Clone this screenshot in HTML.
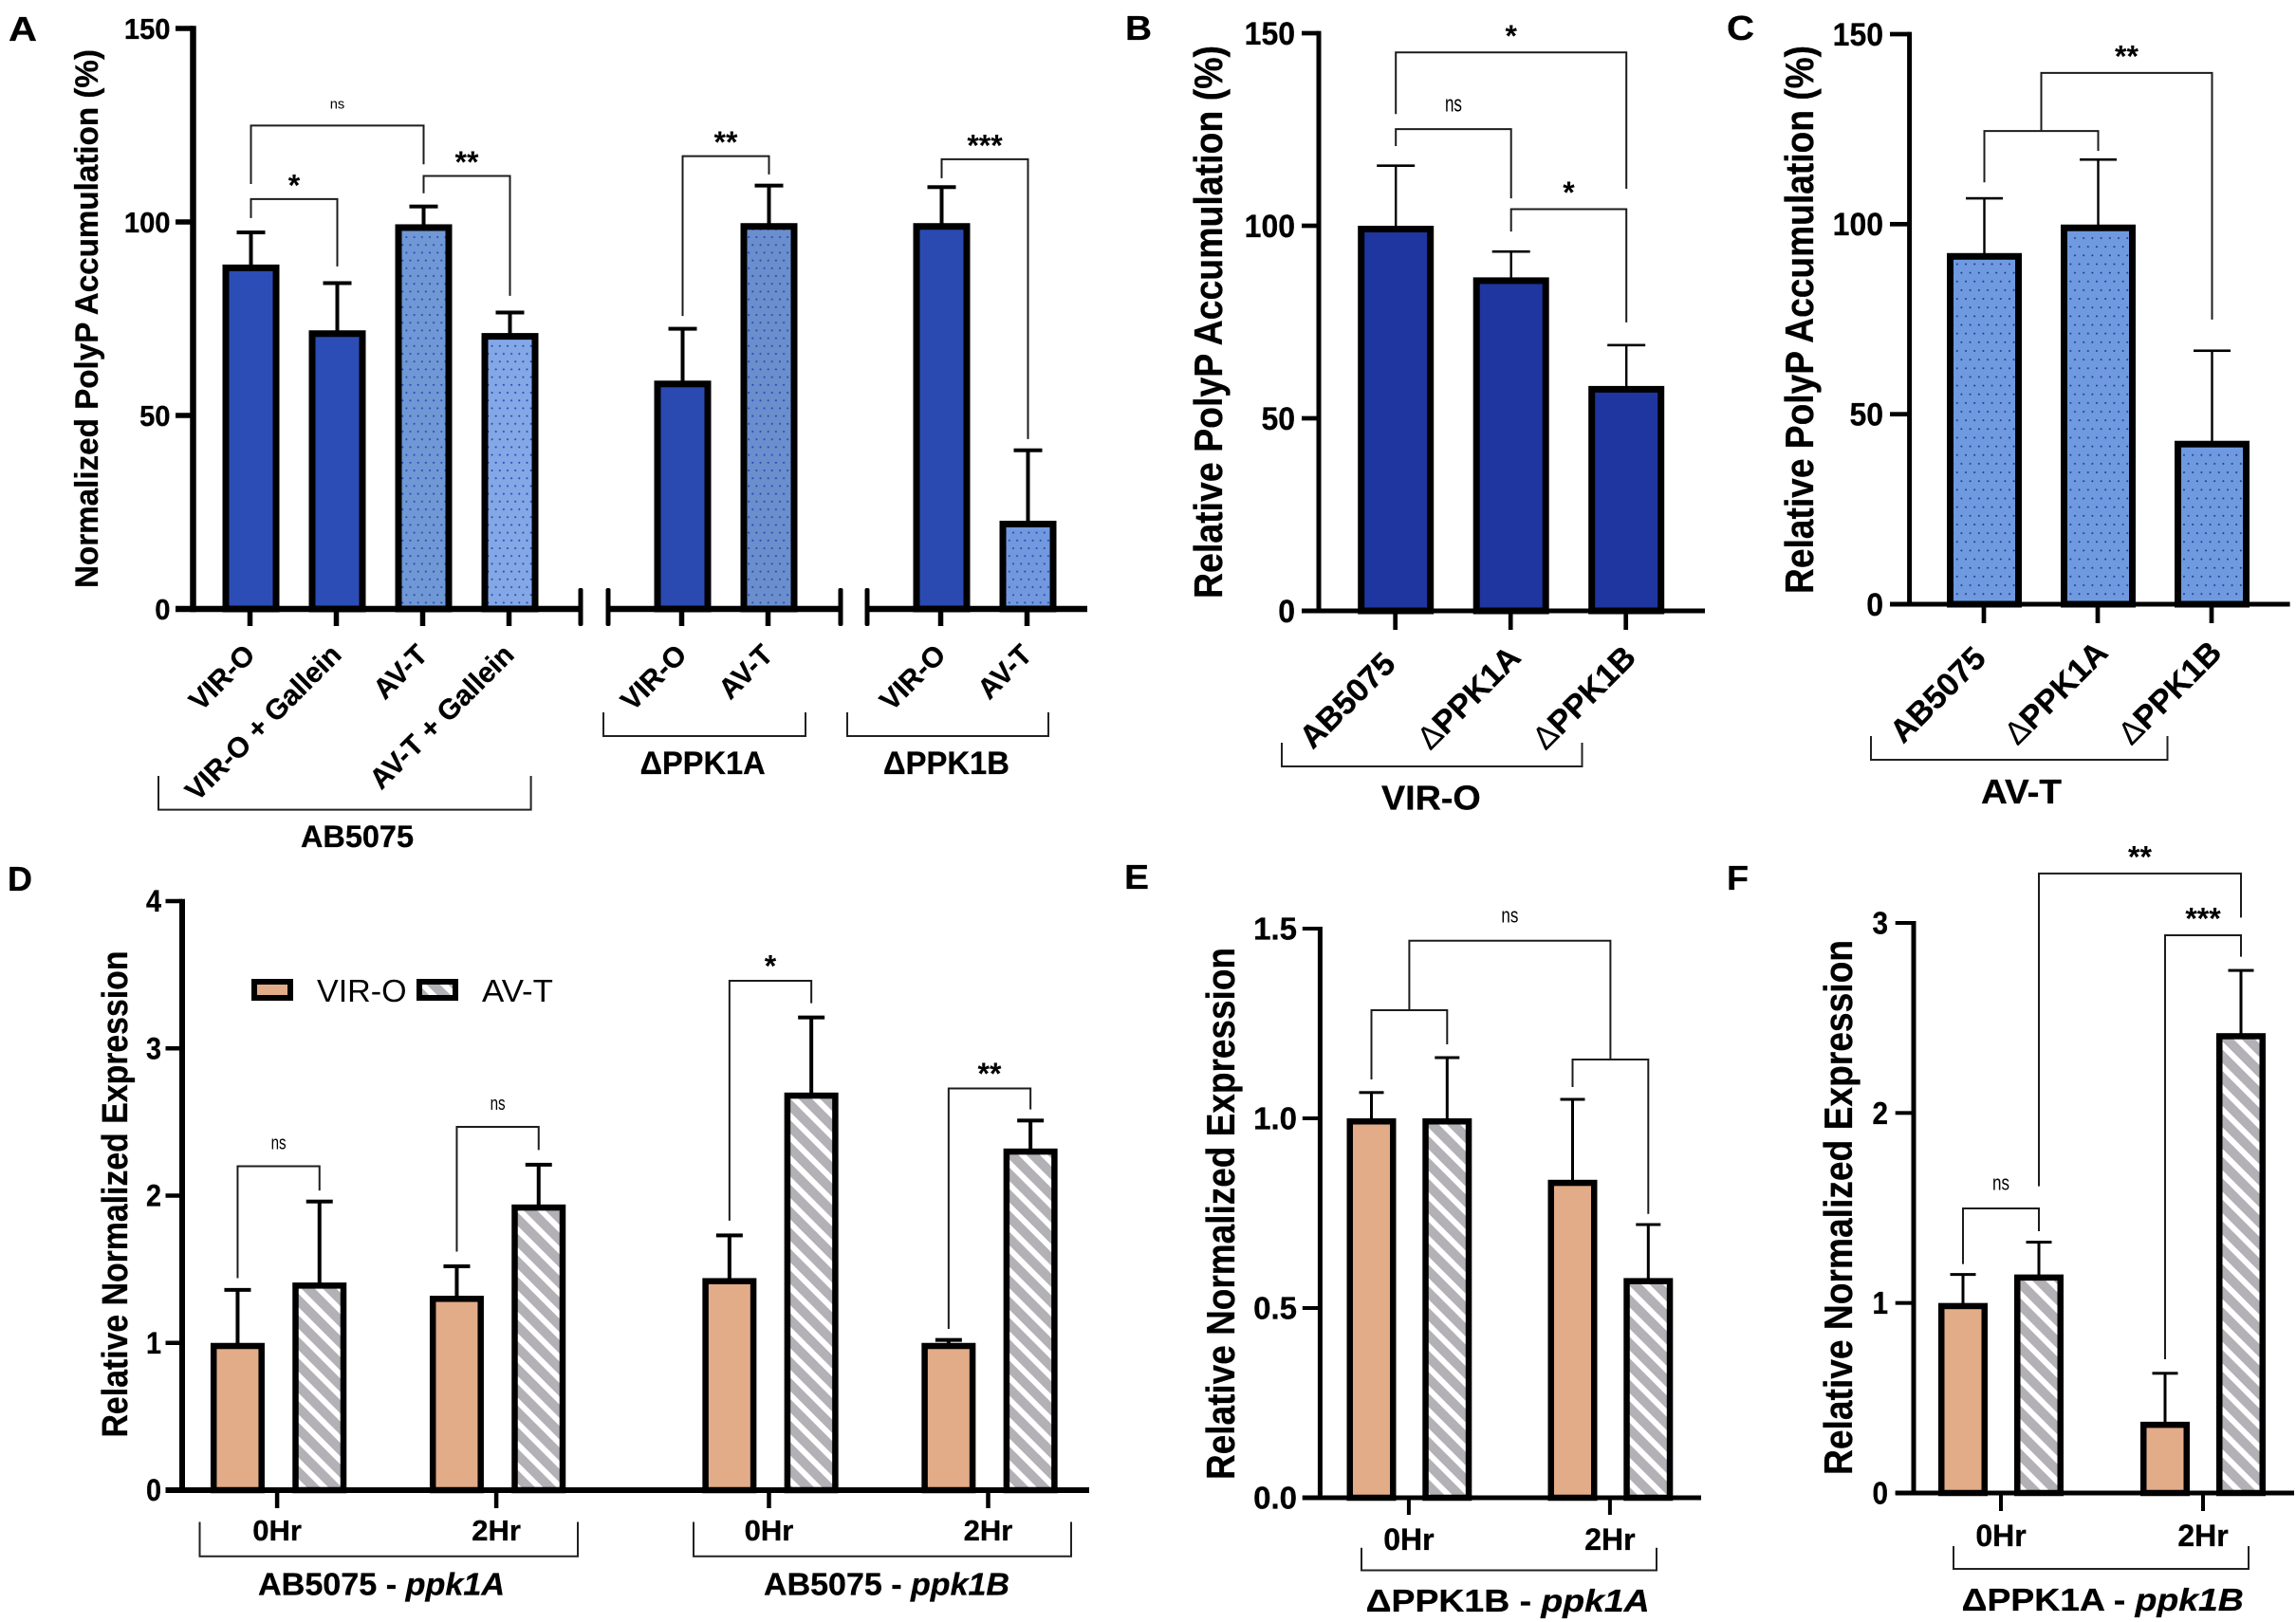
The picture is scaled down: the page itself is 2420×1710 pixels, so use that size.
<!DOCTYPE html>
<html lang="en">
<head>
<meta charset="utf-8">
<title>PolyP accumulation and relative expression panels</title>
<style>
html,body{margin:0;padding:0;background:#fff;}
svg{display:block;}
text{font-family:"Liberation Sans",sans-serif;fill:#000;}
.b{font-weight:bold;stroke:#000;stroke-width:.3;}
</style>
</head>
<body>
<svg id="figure" xmlns="http://www.w3.org/2000/svg" width="2420" height="1710" viewBox="0 0 2420 1710">
<defs>
<pattern id="dots-a3" patternUnits="userSpaceOnUse" width="8.2" height="16.4"><rect width="8.2" height="16.4" fill="#7098d4"/><circle cx="2" cy="4" r="1.05" fill="#2a45c0"/><circle cx="6.1" cy="12.2" r="1.05" fill="#2a45c0"/></pattern>
<pattern id="dots-a4" patternUnits="userSpaceOnUse" width="8.2" height="16.4"><rect width="8.2" height="16.4" fill="#84a8e6"/><circle cx="2" cy="4" r="1.05" fill="#2a45c0"/><circle cx="6.1" cy="12.2" r="1.05" fill="#2a45c0"/></pattern>
<pattern id="dots-a6" patternUnits="userSpaceOnUse" width="8.2" height="16.4"><rect width="8.2" height="16.4" fill="#6a8fcc"/><circle cx="2" cy="4" r="1.05" fill="#2a45c0"/><circle cx="6.1" cy="12.2" r="1.05" fill="#2a45c0"/></pattern>
<pattern id="dots-a8" patternUnits="userSpaceOnUse" width="8.2" height="16.4"><rect width="8.2" height="16.4" fill="#7299de"/><circle cx="2" cy="4" r="1.05" fill="#2a45c0"/><circle cx="6.1" cy="12.2" r="1.05" fill="#2a45c0"/></pattern>
<pattern id="dots-c" patternUnits="userSpaceOnUse" width="9.2" height="18.3"><rect width="9.2" height="18.3" fill="#6f9ae0"/><circle cx="2" cy="4" r="1" fill="#1f3590"/><circle cx="6.6" cy="13.15" r="1" fill="#1f3590"/></pattern>
<pattern id="hatch" patternUnits="userSpaceOnUse" width="16" height="16" patternTransform="rotate(-45)"><rect width="16" height="16" fill="#ffffff"/><rect width="10" height="16" fill="#b3b1b6"/></pattern>
</defs>
<rect width="2420" height="1710" fill="#ffffff"/>

<g class="b" font-size="36">
<text x="9" y="43" textLength="30" lengthAdjust="spacingAndGlyphs">A</text>
<text x="1186" y="42" textLength="28" lengthAdjust="spacingAndGlyphs">B</text>
<text x="1820" y="42" textLength="29" lengthAdjust="spacingAndGlyphs">C</text>
<text x="8" y="939" textLength="26" lengthAdjust="spacingAndGlyphs">D</text>
<text x="1185" y="937" textLength="26" lengthAdjust="spacingAndGlyphs">E</text>
<text x="1820" y="938" textLength="23" lengthAdjust="spacingAndGlyphs">F</text>
</g>

<g class="b" text-anchor="middle">
<text transform="translate(103,336) rotate(-90)" font-size="34" textLength="568" lengthAdjust="spacingAndGlyphs">Normalized PolyP Accumulation (%)</text>
<text transform="translate(1288,339.5) rotate(-90)" font-size="42" textLength="583" lengthAdjust="spacingAndGlyphs">Relative PolyP Accumulation (%)</text>
<text transform="translate(1911,337) rotate(-90)" font-size="42" textLength="578" lengthAdjust="spacingAndGlyphs">Relative PolyP Accumulation (%)</text>
<text transform="translate(134,1259) rotate(-90)" font-size="38" textLength="513" lengthAdjust="spacingAndGlyphs">Relative Normalized Expression</text>
<text transform="translate(1301,1279.5) rotate(-90)" font-size="42" textLength="561" lengthAdjust="spacingAndGlyphs">Relative Normalized Expression</text>
<text transform="translate(1952,1273) rotate(-90)" font-size="42" textLength="564" lengthAdjust="spacingAndGlyphs">Relative Normalized Expression</text>
</g>

<g fill="none" stroke="#222" stroke-width="2">
<path d="M167 818V853.6H559.6V818"/>
<path d="M636 751V776H849V751"/>
<path d="M893 751V776H1105V751"/>
<path d="M1351 783V808H1667.5V783"/>
<path d="M1972 776V801H2284.5V776"/>
<path d="M210.5 1604.5V1640.7H609V1604.5"/>
<path d="M731 1604.5V1640.7H1129V1604.5"/>
<path d="M1435 1631.7V1655.5H1746V1631.7"/>
<path d="M2059 1630V1654H2370V1630"/>
</g>

<g class="b">
<text x="317" y="893" font-size="32" textLength="119" lengthAdjust="spacingAndGlyphs">AB5075</text>
<text x="674.6" y="816" font-size="34" textLength="132" lengthAdjust="spacingAndGlyphs">ΔPPK1A</text>
<text x="931" y="816" font-size="34" textLength="133" lengthAdjust="spacingAndGlyphs">ΔPPK1B</text>
<text x="1456" y="853.3" font-size="36" textLength="104.7" lengthAdjust="spacingAndGlyphs">VIR-O</text>
<text x="2088" y="847" font-size="36" textLength="85" lengthAdjust="spacingAndGlyphs">AV-T</text>
<text x="272" y="1681.5" font-size="33" textLength="260" lengthAdjust="spacingAndGlyphs">AB5075 - <tspan font-style="italic">ppk1A</tspan></text>
<text x="805" y="1681.5" font-size="33" textLength="259" lengthAdjust="spacingAndGlyphs">AB5075 - <tspan font-style="italic">ppk1B</tspan></text>
<text x="1439.7" y="1699" font-size="33" textLength="299" lengthAdjust="spacingAndGlyphs">ΔPPK1B - <tspan font-style="italic">ppk1A</tspan></text>
<text x="2067.7" y="1698" font-size="33" textLength="297" lengthAdjust="spacingAndGlyphs">ΔPPK1A - <tspan font-style="italic">ppk1B</tspan></text>
</g>

<g>
<rect x="268" y="1035" width="38" height="17" fill="#e2ac88" stroke="#000" stroke-width="6"/>
<text x="334" y="1056" font-size="33" textLength="94.6" lengthAdjust="spacingAndGlyphs">VIR-O</text>
<rect x="442" y="1035" width="38" height="17" fill="url(#hatch)" stroke="#000" stroke-width="6"/>
<text x="508" y="1056" font-size="33" textLength="75" lengthAdjust="spacingAndGlyphs">AV-T</text>
</g>

<g id="panel-a"></g>
<g id="panel-b"></g>
<g id="panel-c"></g>
<g id="panel-d"></g>
<g id="panel-e"></g>
<g id="panel-f"></g>
</svg>

<script>
// ---- chart data ----
const panelA_categories = ["VIR-O", "VIR-O + Gallein", "AV-T", "AV-T + Gallein", "VIR-O", "AV-T", "VIR-O", "AV-T"];
const panelA_values = [89, 72, 99.4, 71.3, 59, 99.7, 99.7, 22.8];
const panelA_errors = [8.3, 12.2, 4.6, 5.3, 13.4, 9.7, 9.3, 18.2];
const panelA_yTicks = [0, 50, 100, 150];

const panelB_categories = ["AB5075", "ΔPPK1A", "ΔPPK1B"];
const panelB_values = [100, 86.6, 58.4];
const panelB_errors = [15.6, 6.7, 10.6];
const panelB_yTicks = [0, 50, 100, 150];

const panelC_categories = ["AB5075", "ΔPPK1A", "ΔPPK1B"];
const panelC_values = [92.4, 99.9, 43];
const panelC_errors = [14.4, 17.1, 23.7];
const panelC_yTicks = [0, 50, 100, 150];

const panelD_categories = ["0Hr", "2Hr", "0Hr", "2Hr"];
const panelD_viro = [1, 1.32, 1.44, 1];
const panelD_viroErrors = [0.36, 0.2, 0.29, 0.02];
const panelD_avt = [1.41, 1.94, 2.7, 2.32];
const panelD_avtErrors = [0.55, 0.27, 0.51, 0.19];
const panelD_yTicks = [0, 1, 2, 3, 4];

const panelE_categories = ["0Hr", "2Hr"];
const panelE_viro = [1, 0.838];
const panelE_viroErrors = [0.068, 0.212];
const panelE_avt = [1, 0.579];
const panelE_avtErrors = [0.16, 0.141];
const panelE_yTicks = ["0.0", "0.5", "1.0", "1.5"];

const panelF_categories = ["0Hr", "2Hr"];
const panelF_viro = [1, 0.375];
const panelF_viroErrors = [0.15, 0.255];
const panelF_avt = [1.15, 2.42];
const panelF_avtErrors = [0.17, 0.33];
const panelF_yTicks = [0, 1, 2, 3];

// significance brackets: category + series side, and levels in axis units
const panelA_brackets = [
  {c1:0, c2:2, top:124.9, l:109.8, r:114.9, label:"ns"},
  {c1:0, c2:1, top:105.9, l:101, r:88.5, label:"*"},
  {c1:2, c2:3, top:111.9, l:107.4, r:80.9, label:"**"},
  {c1:4, c2:5, top:117, l:75.7, r:112.3, label:"**"},
  {c1:6, c2:7, top:116.2, l:111.3, r:43.9, label:"***"}
];
const panelB_brackets = [
  {c1:0, c2:2, top:145, l:129, r:109.6, label:"*"},
  {c1:0, c2:1, top:125.1, l:120.7, r:107.1, label:"ns"},
  {c1:1, c2:2, top:104.3, l:98.5, r:74.9, label:"*"}
];
const panelC_brackets = [
  {c1:0, c2:1, top:124.5, l:111, r:119.3, label:""},
  {c1:0.5, c2:2, top:139.8, l:124.5, r:74.9, label:"**"}
];
const panelD_brackets = [
  {c1:0, s1:0, c2:0, s2:1, top:2.2, l:1.44, r:2.035, label:"ns"},
  {c1:1, s1:0, c2:1, s2:1, top:2.467, l:1.62, r:2.31, label:"ns"},
  {c1:2, s1:0, c2:2, s2:1, top:3.459, l:1.83, r:3.307, label:"*"},
  {c1:3, s1:0, c2:3, s2:1, top:2.728, l:1.095, r:2.585, label:"**"}
];
const panelE_brackets = [
  {c1:0, s1:0, c2:0, s2:1, top:1.285, l:1.1025, r:1.195, label:""},
  {c1:1, s1:0, c2:1, s2:1, top:1.155, l:1.0825, r:0.748, label:""},
  {c1:0, c2:1, top:1.468, l:1.285, r:1.155, label:"ns"}
];
const panelF_brackets = [
  {c1:0, s1:0, c2:0, s2:1, top:1.4975, l:1.205, r:1.378, label:"ns"},
  {c1:0, s1:1, c2:1, s2:1, top:3.26, l:1.614, r:3.028, label:"**"},
  {c1:1, s1:0, c2:1, s2:1, top:2.935, l:0.704, r:2.822, label:"***"}
];

// ---- layout and styling (separate from the data) ----
const layouts = [
  {id:"panel-a", y0:642, yTop:30, yMax:150, x0:264.5, step:91, groupGap:91, groups:[4,2,2], sep:0,
   barW:60, barSW:7, stemW:4, capW:30, capH:4, axisW:6.5, tickW:5.5, tickOut:18, tickLeft:185, axisX:203.5,
   segments:[[185,612],[641,886],[914,1146]], caps:[612,641,886,914], capTop:620, capBottom:660,
   tickFont:31, tickRight:179.5, tickSx:0.94, xTickOffset:-1,
   series:[{v:panelA_values, e:panelA_errors, fill:["#2c4db5","#2c4db5","url(#dots-a3)","url(#dots-a4)","#2a4ab2","url(#dots-a6)","#2a4ab2","url(#dots-a8)"]}],
   cats:panelA_categories, ticks:panelA_yTicks, brackets:panelA_brackets,
   catRotate:true, catFont:30, catSx:1, catDx:7, catY:692, thinDelta:false, deltaDx:0, deltaDy:0,
   nsFont:15, nsLen:15.5, labelGap:22},
  {id:"panel-b", y0:644, yTop:35, yMax:150, x0:1471.2, step:121.5, groupGap:0, groups:[3], sep:0,
   barW:80, barSW:7, stemW:2.4, capW:40, capH:2.6, axisW:5, tickW:4.7, tickOut:20, tickLeft:1372, axisX:1390,
   segments:[[1372,1797]], caps:[], tickFont:34, tickRight:1365, tickSx:0.94, xTickOffset:-0.5,
   series:[{v:panelB_values, e:panelB_errors, fill:"#1f35a0"}],
   cats:panelB_categories, ticks:panelB_yTicks, brackets:panelB_brackets,
   catRotate:true, catFont:34, catSx:1.01, catDx:2, catY:702, thinDelta:true, deltaDx:10.5, deltaDy:-7,
   nsFont:24, nsLen:18, labelGap:25},
  {id:"panel-c", y0:637, yTop:36, yMax:150, x0:2091.5, step:120, groupGap:0, groups:[3], sep:0,
   barW:79, barSW:7, stemW:2.4, capW:39, capH:2.6, axisW:5, tickW:4.7, tickOut:20, tickLeft:1992, axisX:2012.6,
   segments:[[1992,2413.6]], caps:[], tickFont:34, tickRight:1985, tickSx:0.94, xTickOffset:-0.5,
   series:[{v:panelC_values, e:panelC_errors, fill:"url(#dots-c)"}],
   cats:panelC_categories, ticks:panelC_yTicks, brackets:panelC_brackets,
   catRotate:true, catFont:34, catSx:1.01, catDx:4, catY:696, thinDelta:true, deltaDx:8.5, deltaDy:-6,
   nsFont:24, nsLen:18, labelGap:25},
  {id:"panel-d", y0:1571, yTop:950, yMax:4, x0:293.6, step:231, groupGap:56.4, groups:[2,2], sep:86.3,
   barW:57, barSW:6.5, stemW:4, capW:28, capH:4, axisW:6, tickW:4.5, tickOut:19, tickLeft:174.5, axisX:192,
   segments:[[174.5,1148]], caps:[], tickFont:32, tickRight:170, tickSx:0.9, xTickOffset:-1.5,
   series:[{v:panelD_viro, e:panelD_viroErrors, fill:"#e2ac88"},{v:panelD_avt, e:panelD_avtErrors, fill:"url(#hatch)"}],
   cats:panelD_categories, ticks:panelD_yTicks, brackets:panelD_brackets,
   catRotate:false, catFont:31, catBase:1624, thinDelta:false, deltaDx:0, deltaDy:0,
   nsFont:20, nsLen:16, labelGap:23},
  {id:"panel-e", y0:1579, yTop:979, yMax:1.5, x0:1485.4, step:212, groupGap:0, groups:[2], sep:79.8,
   barW:52, barSW:6.5, stemW:3, capW:26, capH:3, axisW:5, tickW:4, tickOut:18, tickLeft:1372.8, axisX:1391.4,
   segments:[[1372.8,1793]], caps:[], tickFont:33, tickRight:1367, tickSx:1, xTickOffset:-0.5,
   series:[{v:panelE_viro, e:panelE_viroErrors, fill:"#e2ac88"},{v:panelE_avt, e:panelE_avtErrors, fill:"url(#hatch)"}],
   cats:panelE_categories, ticks:panelE_yTicks, brackets:panelE_brackets,
   catRotate:false, catFont:32, catBase:1634, thinDelta:false, deltaDx:0, deltaDy:0,
   nsFont:22, nsLen:18, labelGap:25},
  {id:"panel-f", y0:1574, yTop:973, yMax:3, x0:2109, step:213, groupGap:0, groups:[2], sep:80,
   barW:52, barSW:6.5, stemW:3, capW:27, capH:3, axisW:5, tickW:4, tickOut:19, tickLeft:1997.7, axisX:2017,
   segments:[[1997.7,2418]], caps:[], tickFont:33, tickRight:1990, tickSx:0.9, xTickOffset:0,
   series:[{v:panelF_viro, e:panelF_viroErrors, fill:"#e2ac88"},{v:panelF_avt, e:panelF_avtErrors, fill:"url(#hatch)"}],
   cats:panelF_categories, ticks:panelF_yTicks, brackets:panelF_brackets,
   catRotate:false, catFont:32, catBase:1630, thinDelta:false, deltaDx:0, deltaDy:0,
   nsFont:22, nsLen:18, labelGap:25}
];

const NS = "http://www.w3.org/2000/svg";
function svgEl(parent, tag, attrs) {
  const el = document.createElementNS(NS, tag);
  for (const k in attrs) el.setAttribute(k, attrs[k]);
  parent.appendChild(el);
  return el;
}

function drawPanel(p) {
  const root = document.getElementById(p.id);
  const yScale = v => p.y0 - (Number(v) / p.yMax) * (p.y0 - p.yTop);
  const groupOf = i => {
    let n = 0, g = 0;
    for (; g < p.groups.length; g++) { n += p.groups[g]; if (i < n) return g; }
    return g - 1;
  };
  const xCat = i => {
    const lo = Math.floor(i), hi = Math.ceil(i);
    const at = k => p.x0 + p.step * k + p.groupGap * groupOf(k);
    return at(lo) + (at(hi) - at(lo)) * (i - lo);
  };
  const nSeries = p.series.length;
  const xBar = (c, s) => xCat(c) + (s - (nSeries - 1) / 2) * p.sep;

  // bars and error bars
  p.series.forEach((ser, s) => {
    ser.v.forEach((val, i) => {
      const cx = xBar(i, s);
      const errTop = yScale(val + ser.e[i]);
      const stem = svgEl(root, "rect", {x: cx - p.stemW / 2, y: errTop, width: p.stemW, height: yScale(val) - errTop + 2, fill: "#000"});
      
      
      const cap = svgEl(root, "rect", {x: cx - p.capW / 2, y: errTop - p.capH / 2, width: p.capW, height: p.capH, fill: "#000"});
      
      
      const fill = Array.isArray(ser.fill) ? ser.fill[i] : ser.fill;
      const top = yScale(val);
      const bar = svgEl(root, "rect", {
        x: cx - p.barW / 2 + p.barSW / 2, y: top + p.barSW / 2,
        width: p.barW - p.barSW, height: Math.max(0, p.y0 - top - p.barSW / 2),
        fill: fill, stroke: "#000", "stroke-width": p.barSW
      });
      
      
    });
  });

  // y axis
  const yAxis = svgEl(root, "rect", {x: p.axisX - p.axisW / 2, y: p.yTop - p.tickW / 2, width: p.axisW, height: p.y0 - p.yTop + p.axisW / 2 + p.tickW / 2, fill: "#000"});
  
  
  p.ticks.forEach(t => {
    const y = yScale(t);
    const tick = svgEl(root, "rect", {x: p.tickLeft, y: y - p.tickW / 2, width: p.axisX - p.tickLeft, height: p.tickW, fill: "#000"});
    
    
    const label = svgEl(root, "text", {
      transform: "translate(" + p.tickRight + "," + (y + p.tickFont * 0.35) + ") scale(" + p.tickSx + ",1)",
      "text-anchor": "end", "font-size": p.tickFont, "font-weight": "bold", stroke: "#000", "stroke-width": 0.3
    });
    label.textContent = String(t);
    
    
  });

  // x axis with optional breaks
  p.segments.forEach(seg => {
    const line = svgEl(root, "rect", {x: seg[0], y: p.y0 - p.axisW / 2, width: seg[1] - seg[0], height: p.axisW, fill: "#000"});
    
    
  });
  p.caps.forEach(cx => {
    const brk = svgEl(root, "rect", {x: cx - 2.5, y: p.capTop, width: 5, height: p.capBottom - p.capTop, rx: 2, fill: "#000"});
    
    
  });

  // x ticks and labels
  p.cats.forEach((name, i) => {
    const tx = xCat(i) + p.xTickOffset;
    const tick = svgEl(root, "rect", {x: tx - p.tickW / 2, y: p.y0, width: p.tickW, height: p.tickOut, fill: "#000"});
    
    
    const attrs = {"font-size": p.catFont, "font-weight": "bold", stroke: "#000", "stroke-width": 0.3};
    const hasDelta = p.thinDelta && name.charAt(0) === "Δ";
    if (p.catRotate) {
      const lx = tx + p.catDx + (hasDelta ? p.deltaDx : 0);
      const ly = p.catY + (hasDelta ? p.deltaDy : 0);
      attrs.transform = "translate(" + lx + "," + ly + ") rotate(-45) scale(" + p.catSx + ",1)";
      attrs["text-anchor"] = "end";
    } else {
      attrs.x = tx;
      attrs.y = p.catBase;
      attrs["text-anchor"] = "middle";
    }
    const label = svgEl(root, "text", attrs);
    if (hasDelta) {
      const delta = svgEl(label, "tspan", {"font-weight": "normal", "stroke-width": 0});
      delta.textContent = "Δ";
      label.appendChild(document.createTextNode(name.slice(1)));
    } else {
      label.textContent = name;
    }
    
    
  });

  // significance brackets
  p.brackets.forEach(b => {
    const x1 = b.s1 === undefined ? xCat(b.c1) : xBar(b.c1, b.s1);
    const x2 = b.s2 === undefined ? xCat(b.c2) : xBar(b.c2, b.s2);
    const top = yScale(b.top);
    const path = svgEl(root, "path", {
      d: "M" + x1 + " " + yScale(b.l) + "V" + top + "H" + x2 + "V" + yScale(b.r),
      fill: "none", stroke: "#1c1c1c", "stroke-width": 2
    });
    
    
    if (b.label) {
      const mid = (x1 + x2) / 2;
      const centerY = top - p.labelGap;
      const isNs = b.label === "ns";
      const size = isNs ? p.nsFont : 32;
      const attrs = {x: mid, y: centerY + (isNs ? 0.26 : 0.58) * size, "text-anchor": "middle", "font-size": size};
      if (isNs) {
        attrs.textLength = p.nsLen;
        attrs.lengthAdjust = "spacingAndGlyphs";
      } else {
        attrs["font-weight"] = "bold";
      }
      const label = svgEl(root, "text", attrs);
      label.textContent = b.label;
      
      
    }
  });
}

layouts.forEach(drawPanel);
</script>
</body>
</html>
